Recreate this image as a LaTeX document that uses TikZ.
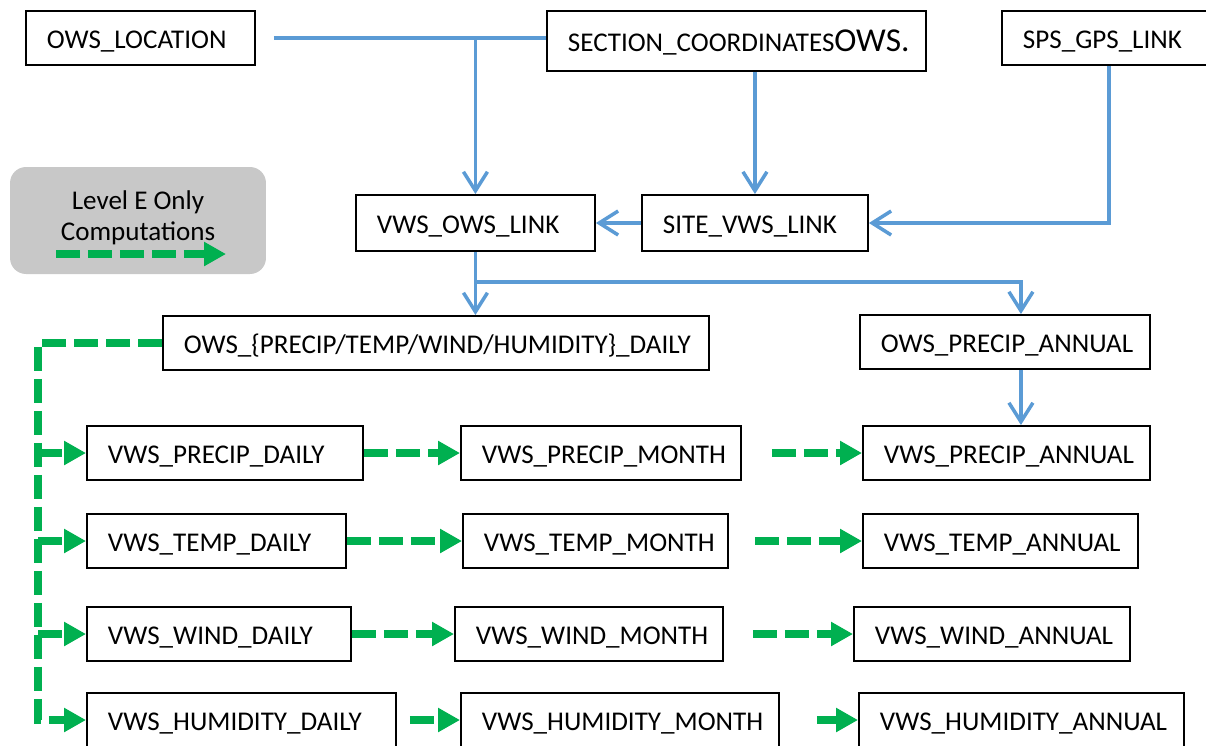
\documentclass[tikz,border=0pt]{standalone}
\usepackage{fontspec}
\setmainfont{Carlito}
\usepackage{tikz}
\usetikzlibrary{shapes,arrows.meta}
\definecolor{lineblue}{RGB}{91,155,213}
\definecolor{linegreen}{RGB}{0,176,80}
\definecolor{legendgray}{RGB}{200,200,200}
\hyphenpenalty=10000
\tikzstyle{blockWH} = [rectangle, draw, line width=1.1pt, fill=white, align=left, inner xsep=0.42cm, minimum height=1.08cm, text height=13pt, text depth=1.2pt, anchor=west, font=\fontsize{15.4}{18}\selectfont]
\tikzstyle{blockGY} = [rectangle, fill=legendgray, rounded corners=0.32cm, minimum width=5.12cm, minimum height=2.14cm]
\tikzstyle{lineBL} = [draw, lineblue, line width=2pt, -{Straight Barb[length=0.38cm,width=0.48cm]}]
\tikzstyle{lineGR} = [draw, linegreen, line width=4.2pt, dash pattern=on 0.48cm off 0.16cm, -{Triangle[length=0.44cm,width=0.46cm]}]

\begin{document}
\begin{tikzpicture}[x=0.02cm, y=-0.02cm]
  \useasboundingbox (0,0) rectangle (1206,745);

    % nodes
    \node [blockWH, text width=3.74cm] (ows_loc) at (25,38) {OWS\_LOCATION};
    \node [blockWH, text width=6.74cm, minimum height=1.2cm] (sec_coord) at (546,41) {SECTION\_COORDINATES{\fontsize{19}{19}\selectfont OWS.}};
    \node [blockWH, text width=3.44cm] (sps_gps) at (1001,38) {SPS\_GPS\_LINK};
    \node [blockWH, text width=3.94cm, minimum height=1.12cm] (vws_ows) at (355,223) {VWS\_OWS\_LINK};
    \node [blockWH, text width=3.68cm, minimum height=1.12cm] (site_vws) at (641,223) {SITE\_VWS\_LINK};
    \node [blockWH, text width=10.08cm] (ows_daily) at (162,343) {OWS\_\{PRECIP/TEMP/WIND/HUMIDITY\}\_DAILY};
    \node [blockWH, text width=4.96cm] (ows_pann) at (859,342) {OWS\_PRECIP\_ANNUAL};

    \node [blockWH, text width=4.68cm] (p_daily) at (86,453) {VWS\_PRECIP\_DAILY};
    \node [blockWH, text width=4.76cm] (p_month) at (460,453) {VWS\_PRECIP\_MONTH};
    \node [blockWH, text width=4.90cm] (p_ann) at (862,453) {VWS\_PRECIP\_ANNUAL};

    \node [blockWH, text width=4.34cm] (t_daily) at (86,541) {VWS\_TEMP\_DAILY};
    \node [blockWH, text width=4.46cm] (t_month) at (462,541) {VWS\_TEMP\_MONTH};
    \node [blockWH, text width=4.66cm] (t_ann) at (862,541) {VWS\_TEMP\_ANNUAL};

    \node [blockWH, text width=4.44cm] (w_daily) at (86,634) {VWS\_WIND\_DAILY};
    \node [blockWH, text width=4.52cm] (w_month) at (454,634) {VWS\_WIND\_MONTH};
    \node [blockWH, text width=4.68cm] (w_ann) at (853,634) {VWS\_WIND\_ANNUAL};

    \node [blockWH, text width=5.34cm] (h_daily) at (86,720) {VWS\_HUMIDITY\_DAILY};
    \node [blockWH, text width=5.52cm] (h_month) at (460,720) {VWS\_HUMIDITY\_MONTH};
    \node [blockWH, text width=5.66cm] (h_ann) at (858,720) {VWS\_HUMIDITY\_ANNUAL};

    \coordinate (split) at ([yshift=-0.6cm]vws_ows.south);
    \coordinate (trunk) at ([xshift=-0.96cm]h_daily.west);

    % edges
    \path [lineBL, -, shorten <=0.36cm] (ows_loc.east) -- (ows_loc.east -| sec_coord.west);
    \path [lineBL] (ows_loc.east -| vws_ows.north) -- (vws_ows.north);
    \path [lineBL] (sec_coord.south -| site_vws.north) -- (site_vws.north);
    \path [lineBL] (sps_gps.south) |- (site_vws.east);
    \path [lineBL] (site_vws.west) -- (vws_ows.east);
    \path [lineBL] (vws_ows.south) -- (vws_ows.south |- ows_daily.north);
    \path [lineBL] (split) -| ([xshift=0.32cm]ows_pann.north);
    \path [lineBL] ([xshift=0.32cm]ows_pann.south) -- ([xshift=0.32cm]ows_pann.south |- p_ann.north);

    \path [lineGR] (ows_daily.west) -| (trunk) -- (h_daily.west);
    \path [lineGR] (trunk |- p_daily.west) -- (p_daily.west);
    \path [lineGR] (trunk |- t_daily.west) -- (t_daily.west);
    \path [lineGR] (trunk |- w_daily.west) -- (w_daily.west);

    \path [lineGR] (p_daily) -- (p_month);
    \path [lineGR] (t_daily) -- (t_month);
    \path [lineGR] (w_daily) -- (w_month);
    \path [lineGR, shorten <=0.26cm] (h_daily) -- (h_month);

    \path [lineGR, shorten <=0.6cm] (p_month) -- (p_ann);
    \path [lineGR, shorten <=0.52cm] (t_month) -- (t_ann);
    \path [lineGR, shorten <=0.58cm] (w_month) -- (w_ann);
    \path [lineGR, shorten <=0.74cm] (h_month) -- (h_ann);

  % Leyenda
  \node [blockGY] (legend) at (138,220.5) {};
  \node [align=center, font=\fontsize{15.4}{17.6}\selectfont] (legend_txt) at (138,218) {Level E Only\\Computations};
  \coordinate (leg_a) at (56,254);
  \coordinate (leg_b) at (226,254);
  \path [lineGR] (leg_a) -- (leg_b);

\end{tikzpicture}
\end{document}
